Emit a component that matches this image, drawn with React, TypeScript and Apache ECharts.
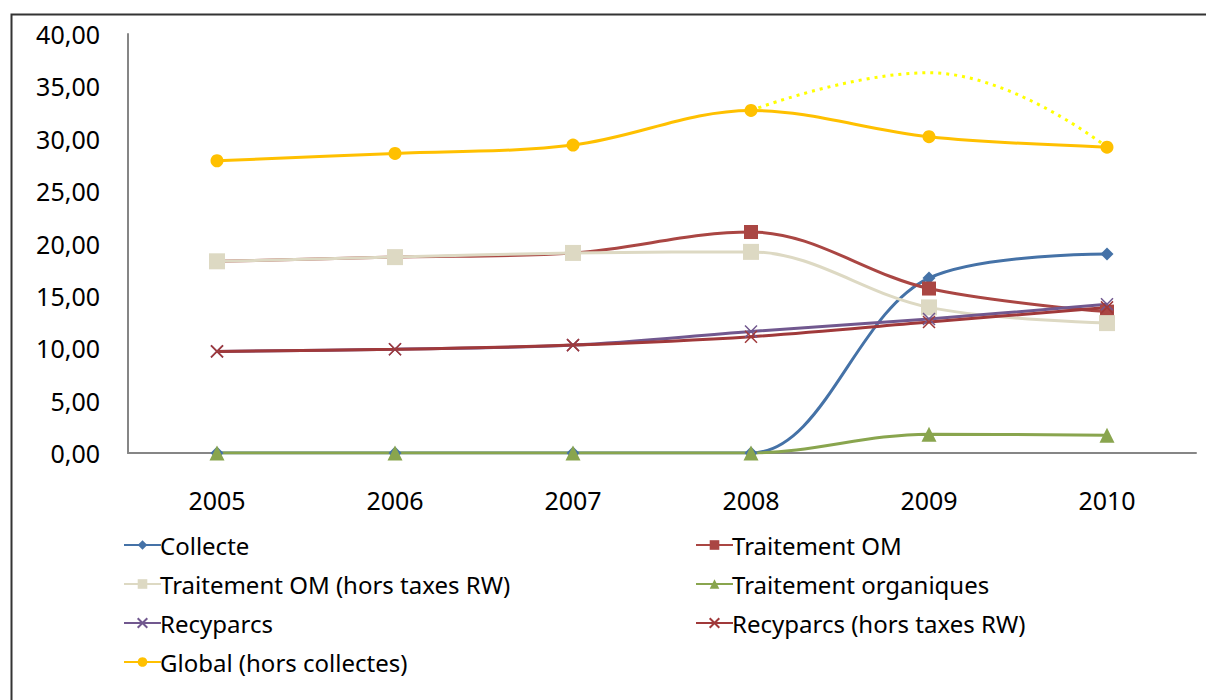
import React, { useEffect, useRef } from "react";
import * as echarts from "echarts";

const years = ["2005", "2006", "2007", "2008", "2009", "2010"];
const collecte = [0, 0, 0, 0, 16.7, 19.0];
const traitementOM = [18.3, 18.7, 19.1, 21.1, 15.7, 13.5];
const traitementOMHT = [18.3, 18.7, 19.1, 19.2, 13.9, 12.4];
const organiques = [0, 0, 0, 0, 1.8, 1.7];
const recyparcs = [9.7, 9.9, 10.3, 11.6, 12.8, 14.2];
const recyparcsHT = [9.7, 9.9, 10.3, 11.1, 12.5, 13.9];
const globalHC = [27.9, 28.6, 29.4, 32.7, 30.2, 29.2];
const globalDotted = [null, null, null, 32.7, 36.3, 29.2];

const FONT = "Noto Sans";
const CROSS = "path://M0,0L10,10M10,0L0,10";

export default function App() {
  const ref = useRef<HTMLDivElement>(null);
  useEffect(() => {
    const chart = echarts.init(ref.current!, null, { renderer: "svg" });
    const mk = (name: string, data: any[], color: string, symbol: string, size: number, extra: any = {}) => ({
      name,
      type: "line",
      data,
      smooth: 0.35,
      symbol,
      symbolSize: size,
      showSymbol: true,
      lineStyle: { color, width: 3 },
      itemStyle: { color, borderColor: color, borderWidth: symbol === CROSS ? 1.5 : 0 },
      ...extra,
    });
    const legendText = { fontSize: 24, color: "#000", fontFamily: FONT, padding: [0, 0, 0, -6] };
    chart.setOption({
      animation: false,
      backgroundColor: "#fff",
      textStyle: { fontFamily: FONT },
      grid: { left: 128, right: 10, top: 34, bottom: 247 },
      xAxis: {
        type: "category",
        data: years,
        boundaryGap: true,
        axisLine: { lineStyle: { color: "#868686", width: 2 } },
        axisTick: { show: false },
        axisLabel: { color: "#000", fontSize: 25, fontFamily: FONT, margin: 34 },
      },
      yAxis: {
        type: "value",
        min: 0,
        max: 40,
        interval: 5,
        axisLine: { show: true, lineStyle: { color: "#868686", width: 2 } },
        axisTick: { show: false },
        splitLine: { show: false },
        axisLabel: {
          color: "#000",
          fontSize: 25,
          fontFamily: FONT,
          margin: 28,
          formatter: (v: number) => v.toFixed(2).replace(".", ","),
        },
      },
      legend: [
        {
          orient: "vertical",
          left: 118,
          top: 528,
          itemWidth: 37,
          itemHeight: 12,
          itemGap: 15,
          textStyle: legendText,
          data: ["Collecte", "Traitement OM (hors taxes RW)", "Recyparcs", "Global (hors collectes)"],
        },
        {
          orient: "vertical",
          left: 690,
          top: 528,
          itemWidth: 37,
          itemHeight: 12,
          itemGap: 15,
          textStyle: legendText,
          data: ["Traitement OM", "Traitement organiques", "Recyparcs (hors taxes RW)"],
        },
      ],
      graphic: [
        {
          type: "rect",
          left: 9,
          top: 12,
          shape: { width: 1300, height: 800 },
          style: { fill: "none", stroke: "#333", lineWidth: 2 },
          silent: true,
        },
      ],
      series: [
        mk("Collecte", collecte, "#4572A7", "diamond", 13),
        mk("Traitement OM", traitementOM, "#AA4643", "rect", 14),
        mk("Traitement OM (hors taxes RW)", traitementOMHT, "#DDD9C3", "rect", 16),
        mk("Traitement organiques", organiques, "#89A54E", "triangle", 15),
        mk("Recyparcs", recyparcs, "#71588F", CROSS, 12),
        mk("Recyparcs (hors taxes RW)", recyparcsHT, "#A0393A", CROSS, 12),
        mk("Global (hors collectes)", globalHC, "#FFC000", "circle", 13),
        {
          name: "Global (pointillé)",
          type: "line",
          data: globalDotted,
          smooth: 0.45,
          symbol: "none",
          lineStyle: { color: "#FFFF00", width: 3, type: [3, 5] },
          itemStyle: { color: "#FFFF00" },
          z: 3,
        },
      ],
    });
    return () => chart.dispose();
  }, []);
  return <div ref={ref} style={{ position: "absolute", left: 0, top: 0, width: 1206, height: 700 }} />;
}
